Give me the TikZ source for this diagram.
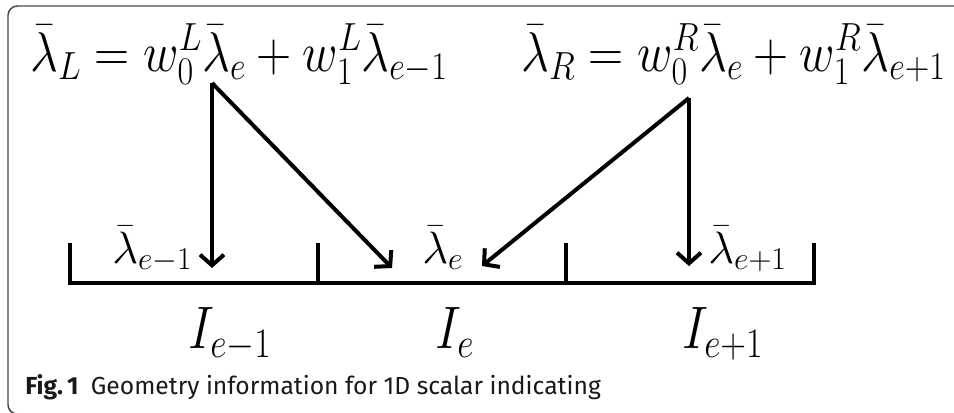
\RequirePackage{fix-cm}
\documentclass[tikz,border=0pt]{standalone}
\usepackage{fontspec}
\newfontfamily\capfont{Fira Sans}
\usetikzlibrary{arrows.meta,positioning}
\definecolor{frame}{RGB}{70,70,70}
\newcommand\squeeze[2]{\scalebox{#1}[1]{#2}}

\begin{document}
\begin{tikzpicture}[x=0.75pt,y=-0.75pt,
    eq/.style={inner sep=0pt,anchor=base west,font=\fontsize{42}{50}\selectfont},
    ilabel/.style={inner sep=0pt,anchor=base west,font=\fontsize{45}{52}\selectfont},
    cell/.style={inner sep=0pt,anchor=base west,font=\fontsize{34}{40}\selectfont},
    ptr/.style={line width=3pt,-{Straight Barb[length=8pt,width=18pt]}},
    axis/.style={line width=3.5pt}]
  \clip (0,0) rectangle (954,412);
  \draw[frame,line width=1.1pt,rounded corners=7pt] (8,6) rectangle (990,414);
  % the two weighted averages
  \node[eq] (eqL) at (30,71) {\squeeze{0.87}{$\bar\lambda_L = w_0^L\bar\lambda_e + w_1^L\bar\lambda_{e-1}$}};
  \node[eq] (eqR) at (521,71) {\squeeze{0.87}{$\bar\lambda_R = w_0^R\bar\lambda_e + w_1^R\bar\lambda_{e+1}$}};
  % cell averages
  \node[cell] (lamm) at (112,263) {$\bar\lambda_{e-1}$};
  \node[cell] (lame) at (422,263) {$\bar\lambda_e$};
  \node[cell] (lamp) at (708,263) {$\bar\lambda_{e+1}$};
  % cells
  \draw[axis] (70,243) |- (814,283) -- (814,243);
  \foreach \x in {318,566}
    \draw[axis] (\x,243) -- (\x,283);
  \node[ilabel] (Im) at (188,348) {\squeeze{0.85}{$I_{e-1}$}};
  \node[ilabel] (Ie) at (435,348) {\squeeze{0.85}{$I_e$}};
  \node[ilabel] (Ip) at (682,348) {\squeeze{0.85}{$I_{e+1}$}};
  % arrows
  \coordinate (srcL) at (212,83);
  \coordinate (srcR) at (689,98);
  \coordinate (endLv) at (212,268);
  \coordinate (endLd) at (392,268);
  \coordinate (endRd) at (482,266);
  \coordinate (endRv) at (689,266);
  \draw[ptr] (srcL) -- (endLv);
  \draw[ptr] (srcL) -- (endLd);
  \draw[ptr] (srcR) -- (endRd);
  \draw[ptr] (srcR) -- (endRv);
  \node[inner sep=0pt,anchor=base west,font=\capfont\fontsize{18.5}{22}\selectfont,text=black!90] (cap) at (25,394)
    {\textbf{Fig.\,1}\hspace{0.5em}Geometry information for 1D scalar indicating};
\end{tikzpicture}
\end{document}
